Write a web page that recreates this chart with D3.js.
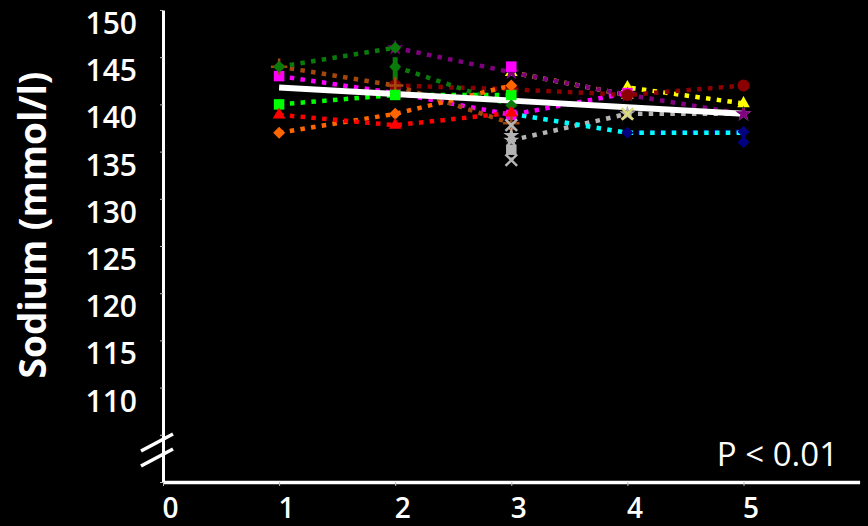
<!DOCTYPE html>
<html>
<head>
<meta charset="utf-8">
<script src="https://cdn.jsdelivr.net/npm/d3@7"></script>
<style>
  html, body { margin: 0; padding: 0; background: #000; }
  svg { display: block; }
</style>
</head>
<body>
<svg id="chart" width="868" height="526"></svg>
<script>
// Serum sodium per patient over time points, with the fitted mean trend.
const xTicks = [0, 1, 2, 3, 4, 5];
const yTicks = [110, 115, 120, 125, 130, 135, 140, 145, 150];
const yBareTicks = [100, 105];
const pLabel = "P < 0.01";
const yTitle = "Sodium (mmol/l)";

const meanTrend   = [[1, 141.8], [2, 141.1], [3, 140.4], [4, 139.7], [5, 139.0]];
const darkGreenA  = [[1, 144], [2, 146]];
const darkGreenB  = [[2, 144], [3, 139.9]];
const darkGreenBRange = [142.6, 145.0];
const purple      = [[2, 146], [3, 143.4], [4, 141], [5, 139]];
const magenta     = [[1, 143], [2, 141.2], [3, 138.9], [4, 141.2]];
const magentaB    = [[3, 144]];
const brown       = [[1, 144], [2, 142], [3, 138]];
const darkRed     = [[2, 142], [3, 141.6], [4, 141], [5, 142]];
const lime        = [[1, 140], [2, 141], [3, 141]];
const red         = [[1, 138.9], [2, 137.8], [3, 139.1]];
const orange      = [[1, 137], [2, 139], [3, 142]];
const yellow      = [[3, 143.4], [4, 141], [4, 141.8], [5, 140.1]];
const khaki       = [[4, 139]];
const cyan        = [[3, 139], [4, 137], [5, 137]];
const navy        = [[4, 137], [5, 137.1], [5, 136]];
const silver      = [[3, 136.2], [4, 139], [5, 139]];
const silverX     = [[3, 137.8], [3, 134.1]];
const silverSq    = [[3, 135.2]];
const silverStar  = [[3, 136.7]];

// Drawing order: first listed sits at the bottom.
const series = [
  { pts: silver,     color: "#b4b4b4", marker: "star" },
  { pts: navy,       color: "#000080", marker: "diamond" },
  { pts: cyan,       color: "#00ffff", marker: "none" },
  { pts: yellow,     color: "#ffff00", marker: "triangle" },
  { pts: purple,     color: "#800080", marker: "star" },
  { pts: magenta,    color: "#ff00ff", marker: "square" },
  { pts: darkRed,    color: "#8b0000", marker: "circle" },
  { pts: magentaB,   color: "#ff00ff", marker: "square" },
  { pts: brown,      color: "#a3470c", marker: "cross" },
  { pts: darkGreenB, color: "#0a7a0a", marker: "diamond" },
  { pts: lime,       color: "#00ff00", marker: "square" },
  { pts: orange,     color: "#ff6600", marker: "diamond" },
  { pts: darkGreenA, color: "#0a7a0a", marker: "diamond" },
  { pts: red,        color: "#ff0000", marker: "triangle" },
  { pts: khaki,      color: "#dcdc78", marker: "x" },
  { pts: silverStar, color: "#b4b4b4", marker: "star" },
  { pts: silverSq,   color: "#b4b4b4", marker: "square" },
  { pts: silverX,    color: "#b4b4b4", marker: "x" }
];

const W = 868, H = 526;
const x = d3.scaleLinear().domain([0, 6]).range([163, 859.6]);
const y = d3.scaleLinear().domain([100, 150]).range([482, 10]);

const svg = d3.select("#chart");
svg.append("rect").attr("width", W).attr("height", H).attr("fill", "#000");

const font = "'Open Sans', 'DejaVu Sans', sans-serif";

// Y axis
const yAxis = svg.append("g")
  .attr("transform", `translate(${x(0)},0)`)
  .call(d3.axisLeft(y)
    .tickValues(yBareTicks.concat(yTicks))
    .tickSize(3)
    .tickSizeOuter(0)
    .tickPadding(23)
    .tickFormat(v => yTicks.includes(v) ? v : ""));
yAxis.select(".domain").attr("stroke", "#fff").attr("stroke-width", 3);
yAxis.selectAll(".tick line").attr("stroke", "#bbb").attr("stroke-width", 1);
yAxis.selectAll(".tick text")
  .attr("fill", "#fff")
  .attr("font-family", font)
  .attr("font-weight", 600)
  .attr("font-size", 30)
  .attr("y", 13)
  .attr("dy", "0.35em");

// X axis
const xAxis = svg.append("g")
  .attr("transform", `translate(0,${y(100)})`)
  .call(d3.axisBottom(x)
    .tickValues(xTicks)
    .tickSize(4)
    .tickSizeOuter(0)
    .tickFormat(d3.format("d")));
xAxis.select(".domain").attr("stroke", "#fff").attr("stroke-width", 3.5);
xAxis.selectAll(".tick line").attr("stroke", "#bbb").attr("stroke-width", 1);
xAxis.selectAll(".tick text")
  .attr("fill", "#fff")
  .attr("font-family", font)
  .attr("font-weight", 600)
  .attr("font-size", 28)
  .attr("x", 7)
  .attr("y", 36)
  .attr("dy", 0);

// Axis break marks on the y axis
const brk = svg.append("g").attr("stroke", "#fff").attr("stroke-width", 3.5);
[0, 15].forEach(off => {
  brk.append("line")
    .attr("x1", x(0) - 22).attr("y1", 451 + off)
    .attr("x2", x(0) + 10).attr("y2", 434 + off);
});

// Axis title
svg.append("text")
  .attr("transform", `translate(46,${(67 + 383) / 2}) rotate(-90)`)
  .attr("text-anchor", "middle")
  .attr("fill", "#fff")
  .attr("font-family", font)
  .attr("font-weight", 700)
  .attr("font-size", 37)
  .text(yTitle);

// P value
svg.append("text")
  .attr("x", 838).attr("y", 466)
  .attr("text-anchor", "end")
  .attr("fill", "#fff")
  .attr("font-family", font)
  .attr("font-weight", 400)
  .attr("font-size", 33)
  .text(pLabel);

const line = d3.line().x(d => x(d[0])).y(d => y(d[1]));

// Dotted patient lines
const lines = svg.append("g");
series.filter(s => s.pts.length > 1).forEach(s => {
  lines.append("path")
    .attr("d", line(s.pts))
    .attr("fill", "none")
    .attr("stroke", s.color)
    .attr("stroke-width", 4.5)
    .attr("stroke-dasharray", "4.5 6.3");
});

// Mean trend
svg.append("path")
  .attr("d", line(meanTrend))
  .attr("fill", "none")
  .attr("stroke", "#fff")
  .attr("stroke-width", 6);

// Spread at time point 2 for one patient
svg.append("line")
  .attr("x1", x(2)).attr("x2", x(2))
  .attr("y1", y(darkGreenBRange[0])).attr("y2", y(darkGreenBRange[1]))
  .attr("stroke", "#0a7a0a").attr("stroke-width", 5);

// Markers
const markerPath = {
  diamond: d3.symbol(d3.symbolSquare, 72)(),
  square: d3.symbol(d3.symbolSquare, 110)(),
  triangle: d3.symbol(d3.symbolTriangle, 70)(),
  circle: d3.symbol(d3.symbolCircle, 115)(),
  star: d3.symbol(d3.symbolStar, 80)(),
  cross: d3.symbol(d3.symbolPlus, 90)(),
  x: d3.symbol(d3.symbolX, 90)()
};
const strokeMarkers = new Set(["cross", "x"]);
const marks = svg.append("g");
series.filter(s => s.marker !== "none").forEach(s => {
  marks.selectAll(null)
    .data(s.pts)
    .join("path")
    .attr("d", markerPath[s.marker])
    .attr("transform", d => `translate(${x(d[0])},${y(d[1])})` + (s.marker === "diamond" ? " rotate(45)" : ""))
    .attr("fill", strokeMarkers.has(s.marker) ? "none" : s.color)
    .attr("stroke", strokeMarkers.has(s.marker) ? s.color : "none")
    .attr("stroke-width", strokeMarkers.has(s.marker) ? 2.5 : 0);
});
</script>
</body>
</html>
